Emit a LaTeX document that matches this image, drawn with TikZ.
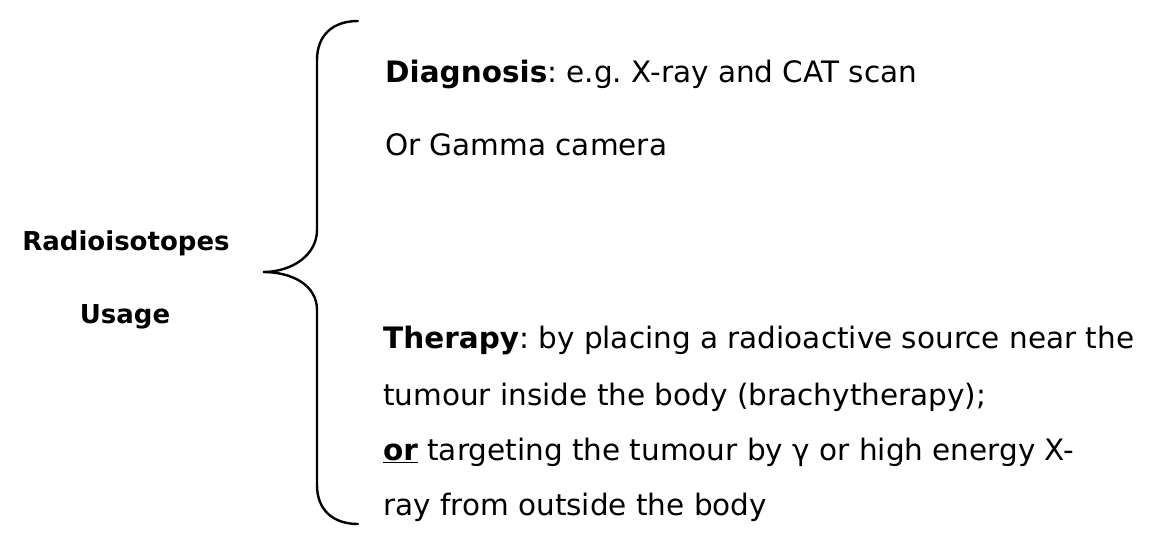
\documentclass[tikz,border=0pt]{standalone}
\usepackage{fontspec}
\setmainfont{DejaVu Sans}
\usepackage{tikz}
\usetikzlibrary{calc}
\frenchspacing

\tikzset{
	txt/.style={anchor=base west, inner sep=0pt, font=\fontsize{29.5}{34}\selectfont},
	lbl/.style={anchor=base, inner sep=0pt, font=\fontsize{26}{30}\selectfont\bfseries},
}

\begin{document}
\begin{tikzpicture}[x=1pt, y=-1pt]
			\useasboundingbox (0,0) rectangle (1156,552);
			\draw[line width=2.4pt, line cap=round] (358,21) .. controls (333,21) and (317,35) .. (317,60) -- (317,230) .. controls (317,255) and (292,272) .. (263,272) .. controls (292,272) and (317,285) .. (317,310) -- (317,485) .. controls (317,510) and (333,524) .. (358,524);
			\node[lbl] (radio) at (126,250) {Radioisotopes};
			\node[lbl] (usage) at (125,323) {Usage};
			\node[txt] (diag) at (385,82) {\textbf{Diagnosis}: e.g. X-ray and CAT scan};
			\node[txt] (gamma) at (385,155) {Or Gamma camera};
			\node[txt] (ther) at (383,348) {\textbf{Therapy}: by placing a radioactive source near the};
			\node[txt] (tum) at (383,405) {tumour inside the body (brachytherapy);};
			\node[txt] (targ) at (383,460) {\underline{\textbf{or}} targeting the tumour by γ or high energy X-};
			\node[txt] (ray) at (383,515) {ray from outside the body};
		\end{tikzpicture}
\end{document}
